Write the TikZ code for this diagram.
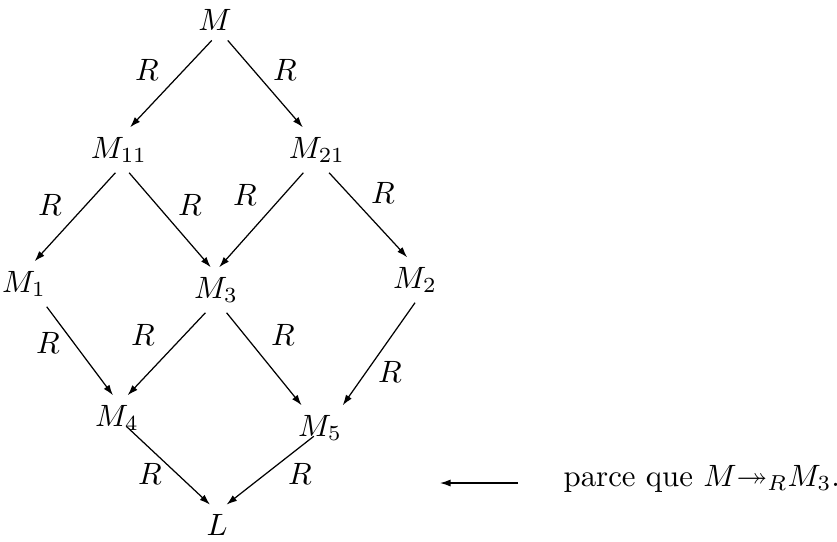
\documentclass[tikz,border=0pt]{standalone}
\usepackage{amsmath,amssymb}
\usetikzlibrary{arrows.meta}

\begin{document}
\begin{tikzpicture}[
    x=0.0114cm, y=-0.0114cm,
    term/.style={inner xsep=1pt, inner ysep=3pt},
    reduc/.style={-{Latex[length=1.2mm,width=0.8mm]}, thin}
]
\useasboundingbox (0,0) rectangle (837,541);
% termes
\node[term] (m)   at (215,20)  {$M$};
\node[term] (m11) at (119,150) {$M_{11}$};
\node[term] (m21) at (317,150) {$M_{21}$};
\node[term] (m1)  at (24,284)  {$M_1$};
\node[term] (m3)  at (216,290) {$M_3$};
\node[term] (m2)  at (415,280) {$M_2$};
\node[term] (m4)  at (117,418) {$M_4$};
\node[term] (m5)  at (320,428) {$M_5$};
\node[term] (l)   at (217,525) {$L$};
% etiquettes
\foreach \x/\y [count=\i] in {147/70, 285/70, 50/205, 190/205, 245/195, 383/193,
    48/343, 143/335, 283/335, 390/372, 150/474, 300/474}
    \node (r\i) at (\x,\y) {$R$};
% reductions
\draw[reduc] (m.-99) -- (m11.64);
\draw[reduc] (m.-58) -- (m21.122);
\draw[reduc] (m11.-99) -- (m1.65);
\draw[reduc] (m11.-66) -- (m3.103);
\draw[reduc] (m21.-121) -- (m3.82);
\draw[reduc] (m21.-62) -- (m2.109);
\draw[reduc] (m1.-45) -- (m4.100);
\draw[reduc] (m3.-115) -- (m4.65);
\draw[reduc] (m3.-65) -- (m5.129);
\draw[reduc] (m2.-90) -- (m5.45);
\draw[reduc] ([xshift=3pt]m4.base) -- (l.109);
\draw[reduc] ([xshift=-2pt]m5.base) -- (l.65);
% remarque
\node[anchor=base west, inner sep=0pt] (why) at (563,486) {parce que $M{\twoheadrightarrow}_R M_3$.};
\coordinate (deb) at (518,483);
\coordinate (fin) at (440,483);
\draw[reduc] (deb) -- (fin);
\end{tikzpicture}
\end{document}
